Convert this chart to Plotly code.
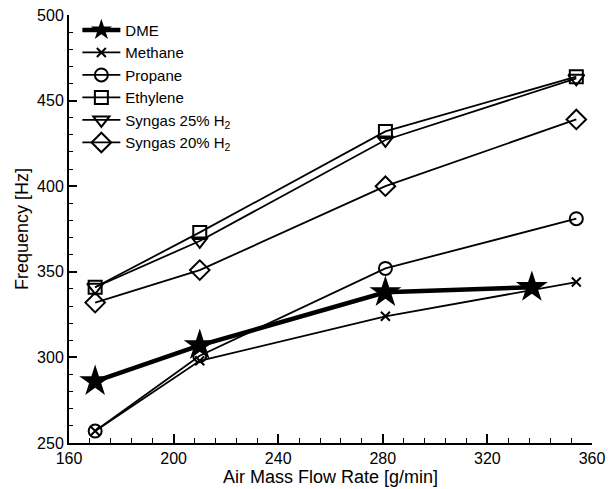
import plotly.graph_objects as go

# Data
x_dme = [170, 210, 281, 337]
y_dme = [286, 307, 338, 341]

x_common = [170, 210, 281, 354]
y_methane = [257, 298, 324, 344]
y_propane = [257, 301, 352, 381]
y_ethylene = [341, 373, 432, 464]
y_syngas25 = [341, 368, 427, 463]
y_syngas20 = [332, 351, 400, 439]

names = ["DME", "Methane", "Propane", "Ethylene",
         "Syngas 25% H<sub>2</sub>", "Syngas 20% H<sub>2</sub>"]

fig = go.Figure()

fig.add_trace(go.Scatter(
    x=x_dme, y=y_dme, name=names[0], mode="lines+markers",
    line=dict(color="black", width=4.5),
    marker=dict(symbol="star", size=24, color="black", line=dict(width=0))))

series = [
    (y_methane, names[1], "x-thin-open", 9),
    (y_propane, names[2], "circle-open", 13),
    (y_ethylene, names[3], "square-open", 13),
    (y_syngas25, names[4], "triangle-down-open", 14),
    (y_syngas20, names[5], "diamond-open", 15),
]
for ys, nm, sym, sz in series:
    fig.add_trace(go.Scatter(
        x=x_common, y=ys, name=nm, mode="lines+markers",
        line=dict(color="black", width=1.8),
        marker=dict(symbol=sym, size=sz, color="black",
                    line=dict(color="black", width=2))))

fam = "Liberation Sans, Arial, sans-serif"
tick_font = dict(family=fam, size=16, color="black")
title_font = dict(family=fam, size=18, color="black")

fig.update_layout(
    width=608, height=489,
    margin=dict(l=69, r=16, t=15, b=46),
    paper_bgcolor="white", plot_bgcolor="white",
    font=tick_font,
    showlegend=True,
    legend=dict(x=0.016, y=1.003, xanchor="left", yanchor="top",
                bgcolor="rgba(0,0,0,0)", font=dict(family=fam, size=15, color="black"),
                itemwidth=38, tracegroupgap=0),
    xaxis=dict(range=[160, 360], tickmode="linear", tick0=160, dtick=40,
               automargin=False,
               ticks="inside", ticklen=9, tickwidth=1.5, tickcolor="black",
               showline=True, linecolor="black", linewidth=2,
               showgrid=False, zeroline=False,
               minor=dict(dtick=8, ticks="inside", ticklen=5, tickwidth=1, tickcolor="black"),
               title=dict(text="Air Mass Flow Rate [g/min]", font=title_font, standoff=0),
               tickfont=tick_font),
    yaxis=dict(range=[250, 500], tickmode="linear", tick0=250, dtick=50,
               automargin=False,
               ticks="inside", ticklen=8, tickwidth=1.5, tickcolor="black",
               showline=True, linecolor="black", linewidth=2,
               showgrid=False, zeroline=False,
               minor=dict(dtick=10, ticks="inside", ticklen=4, tickwidth=1, tickcolor="black"),
               title=dict(text="Frequency [Hz]", font=title_font, standoff=4),
               tickfont=tick_font),
)

fig.write_html("out.html")
